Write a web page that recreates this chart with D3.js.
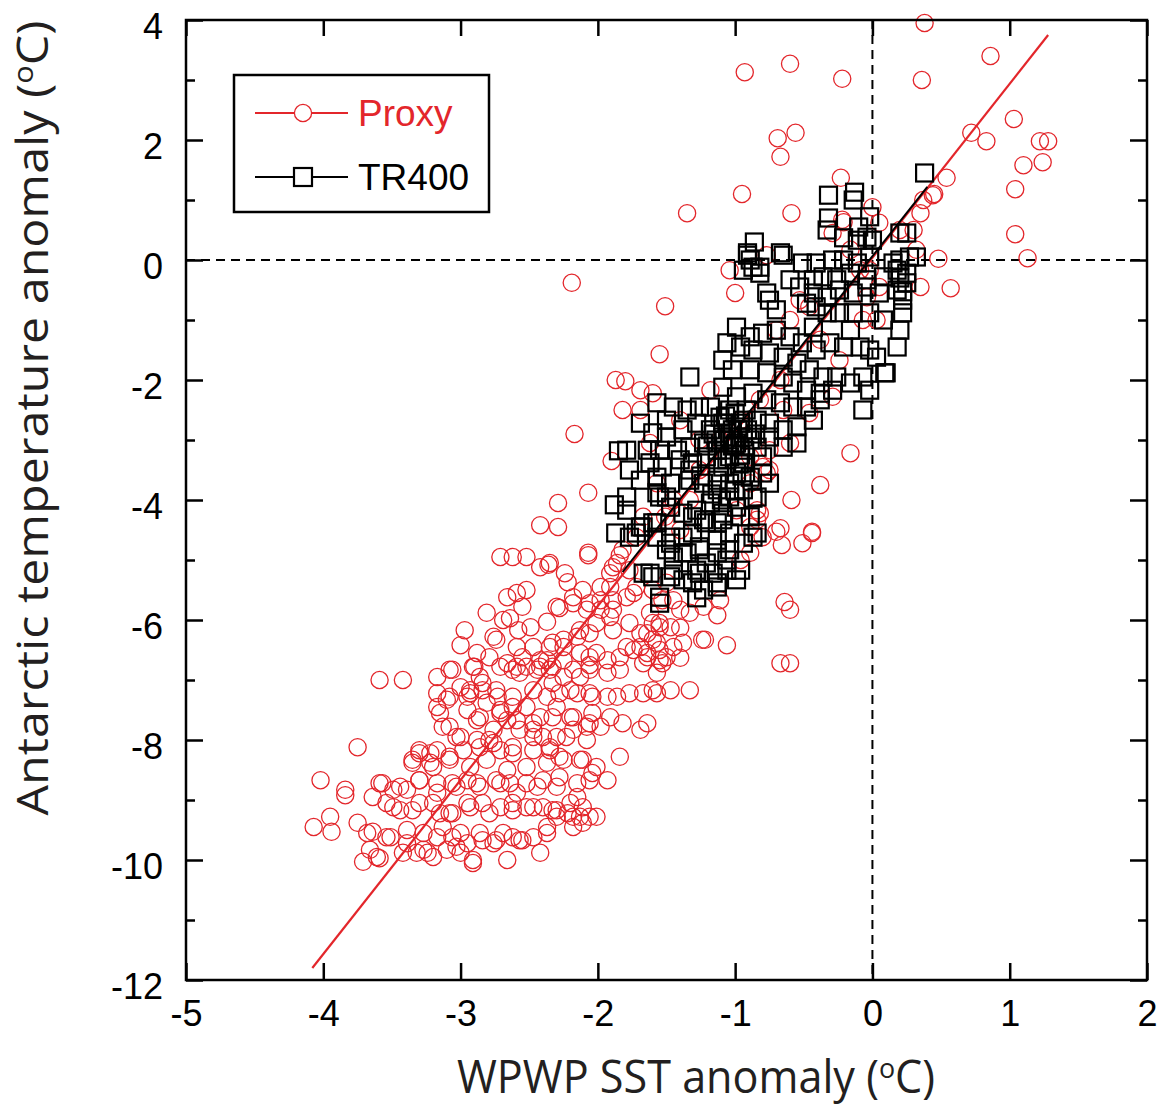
<!DOCTYPE html>
<html>
<head>
<meta charset="utf-8">
<script src="https://cdn.jsdelivr.net/npm/d3@7"></script>
<style>
  body { margin: 0; background: #fff; }
  svg { display: block; }
  .tick text { font-family: "Liberation Sans", Arial, sans-serif; font-size: 36px; fill: #000; }
  .title { font-family: "Open Sans", "Noto Sans", sans-serif; fill: #231f20; }
</style>
</head>
<body>
<svg width="1163" height="1108"></svg>
<script>
(function (d3) {
  'use strict';

  // WPWP SST anomaly vs Antarctic temperature anomaly
  const proxy = [
    [0.38,3.95],[0.86,3.40],[0.36,3.0],[-0.60,3.27],[-0.93,3.13],[-0.22,3.02],[0.72,2.12],[1.03,2.35],
    [0.83,1.98],[1.22,1.98],[1.28,1.98],[-0.56,2.12],[-0.69,2.03],[-0.67,1.72],[1.10,1.58],[1.24,1.63],
    [1.04,1.18],[-0.23,1.37],[-0.95,1.10],[0.54,1.37],[0.45,1.10],[-0.59,0.78],[-1.35,0.78],[0.0,0.88],
    [1.04,0.43],[1.13,0.03],[0.48,0.02],[0.57,-0.47],[0.35,-0.45],[-2.19,-0.38],[-1.04,-0.17],[-1.0,-0.55],
    [-1.51,-0.77],[-1.55,-1.57],[-1.87,-2.0],[-1.80,-2.02],[-2.17,-2.9],[-0.16,-3.22],[-0.38,-3.75],[-0.59,-4.0],
    [-2.07,-3.88],[-1.9,-3.35],[-2.42,-4.42],[-2.29,-4.45],[-0.44,-4.53],
    [0.05,0.62],[-0.21,0.63],[-0.29,0.45],[0.20,0.5],[0.30,0.5],[0.35,0.78],[0.37,1.0],[0.44,1.08],[0.32,0.17],
    [-0.22,0.67],[-0.77,0.08],
    [-1.69,-2.17],[-1.60,-2.22],[-1.82,-2.5],[-1.69,-2.5],[-2.29,-4.05],[-2.07,-4.88],
    [0.05,-0.45],[-0.04,-0.62],[-0.07,-1.0],[0.03,-1.0],[-0.02,-0.17],[-0.46,-0.78],[-0.60,-1.0],[-0.70,-1.17],
    [-0.29,-2.28],[-0.46,-2.55],[-0.65,-2.5],[-0.75,-3.17],[-0.60,-3.05],[-0.80,-3.45],[-0.89,-3.28],[-0.89,-3.72],
    [-1.18,-2.17],[-1.62,-3.05],[-1.57,-3.72],[-1.67,-4.28],[-1.82,-4.83],[-1.72,-4.62],[-1.86,-5.05],[-1.77,-5.17],
    [-0.84,-4.17],[-0.89,-4.45],[-0.99,-4.17],[-0.80,-4.62],
    [-0.67,-4.47],[-0.70,-4.53],[-0.66,-4.75],[-0.51,-4.72],[-0.44,-4.55],[-0.64,-5.70],[-0.60,-5.83],
    [-0.67,-6.72],[-0.60,-6.72],[-1.06,-6.42],[-1.22,-6.33],[-1.24,-6.33],[-1.13,-5.92],[-1.33,-7.17],
    [-1.60,-7.17],[-1.57,-6.88],[-1.50,-6.62],[-1.40,-6.63],[-1.38,-6.38],[-1.40,-6.13],[-1.55,-6.12],
    [-1.60,-6.33],[-1.64,-6.55],[-0.96,-5.0],[-0.89,-4.88],[-0.84,-4.33],[-0.82,-4.22],[-0.77,-3.55],
    [-0.75,-3.5],[-1.11,-5.67],[-1.23,-5.78],[-1.33,-5.88],[-1.40,-5.83],[-1.45,-5.67],[-1.51,-4.28],
    [-1.47,-4.12],[-1.45,-4.0],[-1.50,-5.38],[-1.62,-5.88],
    [-2.71,-4.95],[-2.62,-4.95],[-2.52,-4.95],[-2.07,-4.92],[-1.84,-4.92],[-2.42,-5.12],[-2.36,-5.08],
    [-2.24,-5.22],[-2.22,-5.37],[-1.89,-5.12],[-2.59,-5.55],[-2.52,-5.5],[-2.55,-5.78],[-2.81,-5.88],
    [-2.69,-6.0],[-2.64,-5.97],[-2.58,-6.17],[-2.97,-6.17],[-3.0,-6.42],[-2.88,-6.55],[-2.74,-6.33],
    [-2.37,-6.03],[-2.28,-5.8],[-2.18,-5.72],[-2.06,-5.72],[-1.98,-5.83],[-1.91,-5.95],[-1.89,-5.67],
    [-1.98,-5.45],[-1.91,-5.22],[-1.74,-5.55],[-1.60,-5.5],[-1.53,-5.67],
    [-2.59,-6.45],[-2.47,-6.45],[-2.33,-6.38],[-2.25,-6.45],[-2.15,-6.28],[-2.06,-6.22],[-1.89,-6.17],
    [-1.77,-6.05],[-1.64,-6.22],[-1.55,-6.05],[-1.55,-6.5],[-1.45,-6.45],[-1.53,-6.72],[-1.64,-6.62],
    [-1.74,-6.5],[-1.84,-6.62],[-1.93,-6.67],[-2.06,-6.62],[-2.13,-6.55],[-2.37,-6.67],
    [-3.17,-6.95],[-3.08,-6.83],[-3.0,-7.12],[-2.93,-7.17],[-2.84,-7.05],[-2.74,-7.17],[-2.62,-6.83],
    [-2.52,-6.78],[-2.42,-6.78],[-2.33,-7.05],[-2.20,-7.17],[-2.25,-6.95],[-2.13,-6.95],[-1.93,-6.88],
    [-2.06,-7.22],[-1.93,-7.28],[-1.86,-7.28],[-1.77,-7.22],[-1.67,-7.22],[-1.57,-7.22],[-1.47,-7.17],
    [-3.59,-7.0],[-3.42,-7.0],
    [-3.17,-7.45],[-3.10,-7.33],[-2.95,-7.28],[-2.81,-7.38],[-2.71,-7.5],[-2.62,-7.45],[-2.52,-7.45],
    [-2.42,-7.62],[-2.30,-7.45],[-2.18,-7.62],[-2.04,-7.55],[-1.91,-7.62],[-1.82,-7.72],[-1.69,-7.83],
    [-1.64,-7.72],[-3.13,-7.78],[-3.03,-7.95],[-2.88,-7.67],[-2.76,-7.83],[-2.66,-7.67],[-2.57,-7.83],
    [-2.47,-7.83],[-2.40,-7.95],[-2.30,-7.95],[-2.18,-7.83],[-2.08,-7.78],[-1.98,-7.78],
    [-3.75,-8.12],[-3.30,-8.17],[-3.22,-8.22],[-3.35,-8.38],[-3.20,-8.45],[-3.08,-8.28],[-2.98,-8.17],
    [-2.86,-8.12],[-2.79,-8.0],[-2.71,-8.17],[-2.62,-8.22],[-2.47,-8.17],[-2.35,-8.17],[-2.28,-8.28],
    [-2.13,-8.33],[-2.01,-8.45],[-1.84,-8.28],
    [-3.59,-8.72],[-3.49,-8.83],[-3.39,-8.83],[-3.30,-8.67],[-3.17,-8.72],[-3.06,-8.72],[-2.95,-8.67],
    [-2.86,-8.78],[-2.74,-8.67],[-2.64,-8.72],[-2.52,-8.72],[-2.40,-8.67],[-2.28,-8.62],[-2.15,-8.72],
    [-2.06,-8.67],[-1.93,-8.67],[-4.02,-8.67],[-3.84,-8.83],[-3.84,-8.92],
    [-3.54,-9.05],[-3.44,-9.17],[-3.30,-9.05],[-3.15,-9.22],[-3.06,-9.22],[-2.95,-9.05],[-2.84,-9.05],
    [-2.71,-9.12],[-2.62,-9.05],[-2.52,-9.12],[-2.40,-9.12],[-2.30,-9.17],[-2.20,-9.05],[-2.11,-9.12],
    [-2.01,-9.28],[-2.13,-9.28],[-3.95,-9.28],[-4.07,-9.45],[-3.94,-9.53],[-3.75,-9.38],[-3.64,-9.53],
    [-3.51,-9.62],[-3.39,-9.72],[-3.27,-9.83],[-3.17,-9.62],[-3.06,-9.62],[-2.95,-9.72],[-2.86,-9.55],
    [-2.74,-9.67],[-2.62,-9.62],[-2.47,-9.62],[-2.37,-9.45],[-2.30,-9.28],[-2.11,-9.38],[-2.22,-9.22],
    [-3.71,-10.03],[-3.59,-9.97],[-3.66,-9.83],[-3.32,-9.88],[-3.20,-9.95],[-3.03,-9.78],[-2.91,-10.05],
    [-2.76,-9.72],[-2.66,-10.0],[-2.57,-9.67],[-2.42,-9.88],[-3.0,-9.88],
    [-1.40,-2.67],[-1.26,-3.0],[-0.53,-0.67],[-0.38,-1.33],[-0.24,-1.67],[-0.16,0.17],[-0.09,-0.17],
    [-0.67,-2.0],[-0.82,-2.33],[-0.96,-2.67],[-1.11,-3.0],[-1.26,-3.5],[-1.33,-4.0],[-1.40,-4.5],
    // second pass over the lower cloud
    [-3.06,-6.83],[-2.90,-6.78],[-2.71,-6.78],[-2.59,-6.78],[-2.44,-6.83],[-2.33,-6.78],[-2.18,-6.83],
    [-2.06,-6.75],[-3.17,-7.22],[-3.08,-7.28],[-2.93,-7.22],[-2.84,-7.17],[-2.73,-7.28],[-2.62,-7.28],
    [-2.47,-7.17],[-2.37,-7.28],[-2.28,-7.22],[-2.15,-7.22],[-2.04,-7.28],[-3.15,-7.55],[-2.95,-7.5],
    [-2.86,-7.62],[-2.71,-7.55],[-2.59,-7.67],[-2.47,-7.72],[-2.33,-7.62],[-2.20,-7.62],[-2.06,-7.72],
    [-3.08,-7.78],[-3.00,-7.95],[-2.88,-8.0],[-2.76,-8.05],[-2.62,-8.12],[-2.47,-7.95],[-2.35,-8.12],
    [-2.23,-7.95],[-2.08,-8.0],[-3.30,-8.22],[-3.17,-8.17],[-3.35,-8.33],[-3.22,-8.38],[-3.08,-8.33],
    [-2.93,-8.45],[-2.81,-8.33],[-2.66,-8.5],[-2.52,-8.45],[-2.37,-8.38],[-2.25,-8.33],[-2.11,-8.33],
    [-2.04,-8.55],[-3.57,-8.72],[-3.44,-8.78],[-3.30,-8.67],[-3.17,-8.88],[-3.03,-8.78],[-2.88,-8.72],
    [-2.71,-8.72],[-2.59,-8.88],[-2.44,-8.78],[-2.30,-8.78],[-2.15,-8.95],[-3.64,-8.95],[-3.49,-9.12],
    [-3.35,-9.17],[-3.20,-9.05],[-3.08,-9.22],[-2.93,-9.12],[-2.79,-9.22],[-2.62,-9.17],[-2.47,-9.12],
    [-2.33,-9.17],[-2.18,-9.28],[-2.06,-9.28],[-3.68,-9.55],[-3.54,-9.62],[-3.39,-9.5],[-3.27,-9.55],
    [-3.13,-9.45],[-3.00,-9.55],[-2.84,-9.67],[-2.69,-9.55],[-2.55,-9.67],[-2.37,-9.55],[-2.18,-9.45],
    [-3.61,-9.95],[-3.42,-9.88],[-3.24,-9.88],[-3.10,-9.83],[-2.91,-10.0],
    [-2.35,-5.05],[-2.66,-5.62],[-2.76,-6.28],[-2.49,-6.12],[-2.35,-6.45],[-2.25,-6.33],[-2.13,-6.17],
    [-2.08,-5.83],[-1.98,-5.67],[-1.91,-5.45],[-1.89,-5.83],[-1.79,-5.62],[-1.72,-5.45],[-2.30,-5.78],
    [-2.18,-5.62],[-2.11,-5.5],[-2.01,-6.05],[-1.69,-6.22],[-1.60,-6.05],[-1.47,-6.12],[-1.57,-6.38],
    [-1.69,-6.45],[-1.79,-6.45],[-2.01,-6.55],[-2.25,-6.67],[-2.42,-6.67],[-2.55,-6.62],[-2.66,-6.72],
    [-2.79,-6.62],[-2.91,-6.78],[-1.55,-6.67],[-1.67,-6.72],[-1.84,-6.83],[-2.06,-6.83],[-2.35,-6.83],
    [-2.57,-6.88],[-2.86,-6.95]
  ];

  const tr400 = [
    [-0.91,0.08],[-0.65,0.08],[-0.87,-0.12],[-0.82,-0.22],[-0.89,0.0],[-0.94,-0.17],[-0.51,-0.05],
    [-0.41,-0.05],[-0.29,0.0],[-0.21,0.0],[-0.11,-0.05],[-0.02,0.05],[0.20,0.0],[0.32,0.05],[0.18,-0.17],
    [0.25,-0.22],[0.08,-0.28],[-0.04,-0.33],[-0.16,-0.22],[-0.26,-0.33],[-0.36,-0.28],[-0.43,-0.33],
    [-0.60,-0.33],[-0.53,-0.45],[-0.43,-0.55],[-0.33,-0.62],[-0.24,-0.5],[-0.14,-0.55],[-0.04,-0.45],
    [0.05,-0.55],[0.18,-0.5],[0.25,-0.38],[0.22,-0.67],[0.22,-0.88],[0.20,-1.17],[0.18,-1.45],[0.08,-1.0],
    [-0.02,-0.88],[-0.14,-0.88],[-0.24,-0.88],[-0.33,-0.88],[-0.41,-0.78],[-0.48,-0.72],[-0.75,-0.67],
    [-0.77,-0.55],[-0.70,-0.83],[-0.43,-1.12],
    [-0.99,-1.12],[-0.89,-1.28],[-0.80,-1.22],[-0.70,-1.17],[-0.60,-1.28],[-0.51,-1.38],[-0.41,-1.5],
    [-0.31,-1.38],[-0.21,-1.45],[-0.09,-1.45],[-0.02,-1.5],[0.03,-1.62],[0.10,-1.88],[-0.07,-1.95],
    [-0.16,-2.05],[-0.26,-1.95],[-0.36,-1.95],[-0.46,-1.83],[-0.55,-1.72],[-0.65,-1.62],[-0.75,-1.55],
    [-0.87,-1.5],[-0.96,-1.45],[-1.06,-1.38],[-1.09,-1.67],[-1.02,-1.83],[-0.89,-1.83],[-0.77,-1.88],
    [-0.65,-1.95],[-0.58,-2.05],[-0.48,-2.17],[-0.38,-2.22],[-0.29,-2.17],[-0.07,-2.5],[-0.02,-2.17],
    [-1.33,-1.95],[-1.09,-2.12],[-0.99,-2.28],[-0.87,-2.22],[-0.77,-2.33],[-0.67,-2.38],[-0.58,-2.45],
    [-0.48,-2.45],[-0.38,-2.33],[-1.18,-2.45],[-1.04,-2.5],[-0.94,-2.67],[-0.84,-2.67],[-0.75,-2.72],
    [-0.65,-2.83],[-0.55,-2.78],[-0.43,-2.67],[-1.09,-2.72],[-1.04,-2.95],[-0.94,-2.95],[-0.84,-3.12],
    [-0.75,-2.95],[-0.65,-3.12],[-0.55,-3.05],[-0.80,-3.28],
    [-1.57,-2.38],[-1.45,-2.45],[-1.35,-2.5],[-1.26,-2.45],[-1.50,-2.67],[-1.69,-2.72],[-1.60,-2.88],
    [-1.50,-2.95],[-1.38,-2.83],[-1.28,-2.72],[-1.18,-2.83],[-1.23,-3.05],[-1.33,-3.12],[-1.42,-3.17],
    [-1.55,-3.17],[-1.64,-3.17],[-1.79,-3.17],[-1.62,-3.38],[-1.53,-3.45],[-1.40,-3.33],[-1.31,-3.38],
    [-1.21,-3.28],[-1.13,-3.33],[-1.11,-2.62],[-1.06,-2.72],[-1.02,-2.83],[-0.96,-2.72],[-0.91,-2.83],
    [-1.09,-2.95],[-0.99,-3.05],[-1.13,-3.17],[-1.04,-3.28],[-0.94,-3.38],[-1.09,-3.45],[-0.99,-3.55],
    [-1.13,-3.67],[-1.04,-3.72],[-1.08,-3.0],[-1.0,-3.08],[-0.93,-3.17],[-1.06,-3.33],[-0.98,-2.83],
    [-1.14,-3.0],[-0.89,-3.0],[-0.96,-3.25],
    [-1.77,-3.5],[-1.69,-3.67],[-1.57,-3.62],[-1.47,-3.72],[-1.33,-3.67],[-1.23,-3.72],[-1.13,-3.83],
    [-1.04,-3.95],[-0.94,-3.83],[-0.84,-3.95],[-0.89,-3.62],[-0.80,-3.55],[-0.75,-3.72],
    [-1.79,-3.95],[-1.79,-4.17],[-1.69,-4.45],[-1.60,-4.38],[-1.55,-3.95],[-1.47,-4.12],[-1.38,-4.22],
    [-1.28,-4.17],[-1.18,-4.05],[-1.09,-4.22],[-0.99,-4.12],[-0.89,-4.28],[-0.84,-4.55],[-0.94,-4.72],
    [-1.04,-4.55],[-1.13,-4.38],[-1.23,-4.33],[-1.31,-4.55],[-1.38,-4.62],[-1.47,-4.62],[-1.57,-4.62],
    [-1.72,-4.55],[-1.77,-4.62],[-1.50,-4.83],[-1.38,-4.88],[-1.26,-4.83],[-1.13,-4.88],[-1.04,-4.83],
    [-0.96,-5.17],[-1.06,-5.17],[-1.16,-5.22],[-1.28,-5.17],[-1.38,-5.33],[-1.47,-5.28],[-1.62,-5.22],
    [-1.13,-5.38],[-1.23,-5.5],[-1.31,-5.38],[-1.55,-5.62],
    [-0.32,1.08],[-0.13,1.13],[-0.14,1.0],[-0.32,0.70],[-0.33,0.5],[-0.10,0.55],[-0.02,0.72],[-0.04,0.38],
    [-0.86,0.3],[-0.91,0.12],[-0.67,0.12],[-0.82,-0.12],[-0.21,0.37],[-0.11,0.33],[0.0,0.33],[0.20,0.45],
    [0.25,0.45],[0.27,0.05],[0.15,-0.05],[0.20,-0.3],[0.22,-0.53],[0.38,1.45],
    [-1.33,-3.5],[-1.57,-3.88],[-1.50,-3.95],[-0.87,-3.97],[-0.87,-4.62],[-1.57,-4.38],[-1.67,-4.45],
    [-1.67,-5.22],[-1.60,-5.28],[-1.55,-5.72],[-1.28,-5.63],[-1.13,-5.45],[-0.99,-5.33],[-1.31,-4.28],
    [-1.21,-4.38],[-1.09,-4.33],[-0.96,-4.28],[-1.26,-4.78],[-1.13,-4.67],[-1.47,-4.72],[-1.45,-4.95],
    [-1.35,-4.88],[-1.21,-5.05],[-1.06,-5.0],[-1.26,-5.22],[-1.45,-5.17],
    [-1.85,-3.18],[-1.88,-4.08],[-1.87,-4.55],[0.09,-1.88],[-0.16,-1.17],
    [-1.02,-3.1],[-0.97,-3.4],[-1.07,-2.6],[-0.92,-2.5],[-1.16,-2.9],[-1.0,-2.55],[-1.2,-3.1],
    [-0.85,-2.9],[-1.25,-3.6],[-1.17,-3.9],[-1.1,-4.0],[-1.0,-3.85],[-0.95,-3.6]
  ];

  // regression lines
  const proxyFit = [[-4.08,-11.8],[1.28,3.75]];
  const tr400Fit = [[-1.82,-5.2],[0.40,1.22]];

  const xTicks = [-5,-4,-3,-2,-1,0,1,2];
  const yTicks = [-12,-10,-8,-6,-4,-2,0,2,4];
  const yMinor = [-11,-9,-7,-5,-3,-1,1,3];

  const red = '#e3262b';
  const fmt = d => String(d);   // plain hyphen, like the original

  const svg = d3.select('svg');
  const x = d3.scaleLinear().domain([-5,2]).range([186,1147]);
  const y = d3.scaleLinear().domain([-12,4]).range([980,20]);

  // zero reference lines
  svg.append('line')
      .attr('x1', x(-5)).attr('x2', x(2))
      .attr('y1', y(0)).attr('y2', y(0))
      .attr('stroke', '#000').attr('stroke-width', 2)
      .attr('stroke-dasharray', '9,6');
  svg.append('line')
      .attr('x1', x(0)).attr('x2', x(0))
      .attr('y1', y(4)).attr('y2', y(-12))
      .attr('stroke', '#000').attr('stroke-width', 2)
      .attr('stroke-dasharray', '9,6');

  svg.append('g').selectAll('circle').data(proxy)
    .enter().append('circle')
      .attr('cx', d => x(d[0]))
      .attr('cy', d => y(d[1]))
      .attr('r', 8.6)
      .attr('fill', 'none')
      .attr('stroke', red)
      .attr('stroke-width', 1.3);

  const line = d3.line().x(d => x(d[0])).y(d => y(d[1]));

  svg.append('path').datum(proxyFit)
      .attr('d', line)
      .attr('stroke', red).attr('stroke-width', 2.2).attr('fill', 'none');

  const sq = 17;
  svg.append('g').selectAll('rect').data(tr400)
    .enter().append('rect')
      .attr('x', d => x(d[0]) - sq / 2)
      .attr('y', d => y(d[1]) - sq / 2)
      .attr('width', sq).attr('height', sq)
      .attr('fill', 'none')
      .attr('stroke', '#000')
      .attr('stroke-width', 2.2);

  svg.append('path').datum(tr400Fit)
      .attr('d', line)
      .attr('stroke', '#000').attr('stroke-width', 2).attr('fill', 'none');

  // axes, ticks point inward
  const styleAxis = g => {
    g.select('.domain').remove();
    g.selectAll('.tick line').attr('stroke', '#000').attr('stroke-width', 2.5);
  };

  svg.append('g')
      .attr('transform', `translate(0,${y(-12)})`)
      .call(d3.axisBottom(x).tickValues(xTicks).tickSizeInner(-17).tickSizeOuter(0).tickFormat(fmt))
      .call(styleAxis)
      .call(g => g.selectAll('.tick text').attr('y', 20).attr('dy', '0.71em'));

  svg.append('g')
      .attr('transform', `translate(0,${y(4)})`)
      .call(d3.axisTop(x).tickValues(xTicks).tickSizeInner(-16).tickSizeOuter(0).tickFormat(''))
      .call(styleAxis);

  svg.append('g')
      .attr('transform', `translate(${x(-5)},0)`)
      .call(d3.axisLeft(y).tickValues(yTicks).tickSizeInner(-17).tickSizeOuter(0).tickFormat(fmt))
      .call(styleAxis)
      .call(g => g.selectAll('.tick text').attr('x', -23).attr('dy', '0.5em'));

  svg.append('g')
      .attr('transform', `translate(${x(-5)},0)`)
      .call(d3.axisLeft(y).tickValues(yMinor).tickSizeInner(-9).tickSizeOuter(0).tickFormat(''))
      .call(styleAxis);

  svg.append('g')
      .attr('transform', `translate(${x(2)},0)`)
      .call(d3.axisRight(y).tickValues(yTicks).tickSizeInner(-17).tickSizeOuter(0).tickFormat(''))
      .call(styleAxis);

  svg.append('g')
      .attr('transform', `translate(${x(2)},0)`)
      .call(d3.axisRight(y).tickValues(yMinor).tickSizeInner(-9).tickSizeOuter(0).tickFormat(''))
      .call(styleAxis);

  svg.append('rect')
      .attr('x', x(-5)).attr('y', y(4))
      .attr('width', x(2) - x(-5)).attr('height', y(-12) - y(4))
      .attr('fill', 'none').attr('stroke', '#000').attr('stroke-width', 2.5);

  // legend
  const legend = svg.append('g').attr('transform', 'translate(234,75)');
  legend.append('rect')
      .attr('width', 255).attr('height', 137)
      .attr('fill', '#fff').attr('stroke', '#000').attr('stroke-width', 2.5);

  const items = [
    { name: 'Proxy', color: red, shape: 'circle', y: 38 },
    { name: 'TR400', color: '#000', shape: 'square', y: 102 }
  ];
  const item = legend.selectAll('.legend-item').data(items)
    .enter().append('g').attr('class', 'legend-item')
      .attr('transform', d => `translate(0,${d.y})`);
  item.append('line')
      .attr('x1', 21).attr('x2', 114)
      .attr('stroke', d => d.color).attr('stroke-width', 2);
  item.filter(d => d.shape === 'circle').append('circle')
      .attr('cx', 69).attr('r', 8.6)
      .attr('fill', '#fff').attr('stroke', d => d.color).attr('stroke-width', 1.3);
  item.filter(d => d.shape === 'square').append('rect')
      .attr('x', 60).attr('y', -9).attr('width', 18).attr('height', 18)
      .attr('fill', '#fff').attr('stroke', d => d.color).attr('stroke-width', 2.2);
  item.append('text')
      .attr('x', 124).attr('y', 13)
      .attr('fill', d => d.color)
      .style('font-family', '"Liberation Sans", Arial, sans-serif')
      .style('font-size', '37px')
      .text(d => d.name);

  // axis titles
  const addTitle = (sel, label) => {
    sel.append('tspan').text(label + ' (');
    sel.append('tspan').attr('dy', -15).style('font-size', '28px').text('o');
    sel.append('tspan').attr('dy', 15).text('C)');
  };

  svg.append('text')
      .attr('class', 'title')
      .attr('x', 696).attr('y', 1093)
      .attr('text-anchor', 'middle')
      .attr('textLength', 478).attr('lengthAdjust', 'spacingAndGlyphs')
      .style('font-size', '45px')
      .call(addTitle, 'WPWP SST anomaly');

  svg.append('text')
      .attr('class', 'title')
      .attr('transform', 'translate(48,418) rotate(-90)')
      .attr('text-anchor', 'middle')
      .attr('textLength', 795).attr('lengthAdjust', 'spacingAndGlyphs')
      .style('font-size', '44px')
      .call(addTitle, 'Antarctic temperature anomaly');

}(d3));
</script>
</body>
</html>
